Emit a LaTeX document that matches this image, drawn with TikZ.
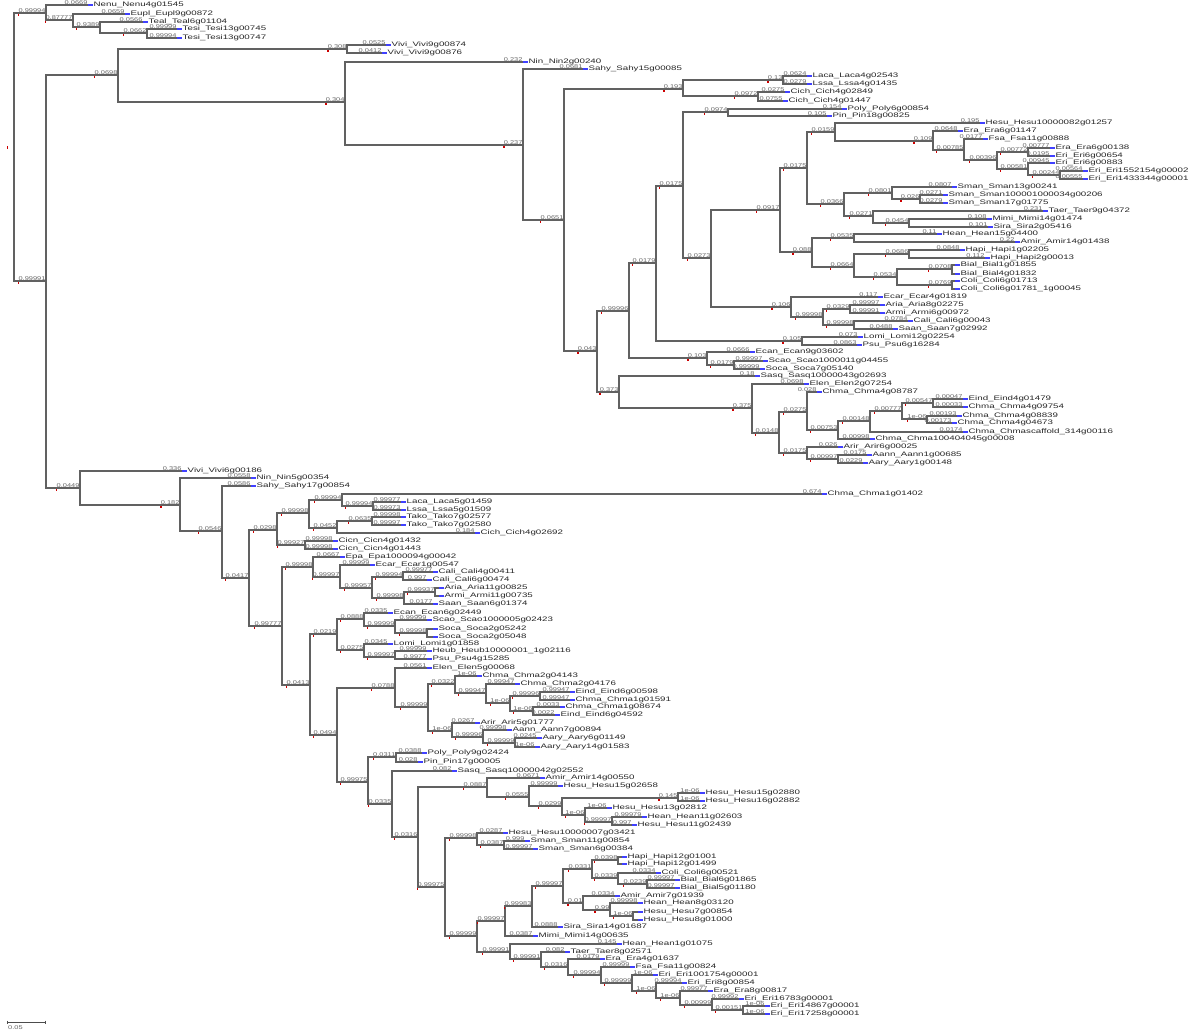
\documentclass[tikz,border=0pt]{standalone}
\usepackage{fontspec}
\setmainfont{Liberation Sans}
\usepackage{graphicx}
\tikzset{
  br/.style={draw=black!62, line width=1.25pt},
  bl/.style={anchor=south east, inner sep=0.4pt, text=black!60},
  lf/.style={anchor=west, inner sep=0pt, text=black!85},
  bm/.style={draw=blue!75, line width=1.3pt},
  rm/.style={fill=red!80!black},
}
\newcommand\BL[1]{\scalebox{1.35}[1]{\fontsize{5.5}{6}\selectfont #1}}
\newcommand\LT[1]{\scalebox{1.5}[1]{\fontsize{6.5}{7}\selectfont #1}}
\newcommand\tnode[5]{%
  \coordinate (#1) at (#2,#3);
  \draw[br] (#4) |- (#1);
  \node[bl] (#1l) at (#1) {\BL{#5}};
  \fill[rm] ([yshift=-1pt]#1l.south west) rectangle ++(1.3,2);
}
\newcommand\tleaf[6]{%
  \coordinate (#1) at (#2,#3);
  \draw[br] (#4) |- (#1);
  \node[bl] (#1l) at (#1) {\BL{#5}};
  \draw[bm] (#1) -- ++(5,0);
  \node[lf] (#1t) at ([xshift=5.5pt]#1) {\LT{#6}};
}
\begin{document}
\begin{tikzpicture}[x=1pt,y=-1pt]
\fill[white] (0,0) rectangle (1200,1032);
\useasboundingbox (0,0) rectangle (1200,1032);
\coordinate (R0) at (14,147);
\fill[rm] (6.5,146) rectangle ++(1.5,3);
% ---- top clade
\tnode{N1}{46}{13}{R0}{0.99994}
\tleaf{Nenu}{88}{5}{N1}{0.0669}{Nenu\_Nenu4g01545}
\tnode{N2}{73}{20}{N1}{0.87777}
\tleaf{Eupl}{125}{14}{N2}{0.0659}{Eupl\_Eupl9g00872}
\tnode{N3}{100}{27}{N2}{0.9389}
\tleaf{Teal}{143}{22}{N3}{0.0566}{Teal\_Teal6g01104}
\tnode{N4}{147}{33}{N3}{0.0662}
\tleaf{TesiA}{177}{29}{N4}{0.99999}{Tesi\_Tesi13g00745}
\tleaf{TesiB}{177}{38}{N4}{0.99994}{Tesi\_Tesi13g00747}
% ---- main clade
\tnode{M0}{46}{281}{R0}{0.99991}
\tnode{M1}{118}{75}{M0}{0.0698}
\tnode{V0}{347}{49}{M1}{0.308}
\tleaf{ViviA}{386}{45}{V0}{0.0525}{Vivi\_Vivi9g00874}
\tleaf{ViviB}{382}{53}{V0}{0.0412}{Vivi\_Vivi9g00876}
\tnode{M2}{345}{102}{M1}{0.304}
\tleaf{NinA}{523}{62}{M2}{0.232}{Nin\_Nin2g00240}
\tnode{M3}{523}{145}{M2}{0.237}
\tleaf{SahyA}{583}{69}{M3}{0.0681}{Sahy\_Sahy15g00085}
\tnode{M4}{564}{220}{M3}{0.0651}
\tnode{P1}{683}{89}{M4}{0.193}
\tnode{P2}{783}{80}{P1}{0.13}
\tleaf{Laca}{807}{76}{P2}{0.0624}{Laca\_Laca4g02543}
\tleaf{Lssa}{807}{84}{P2}{0.0279}{Lssa\_Lssa4g01435}
\tnode{P3}{758}{96}{P1}{0.0972}
\tleaf{CichA}{785}{92}{P3}{0.0275}{Cich\_Cich4g02849}
\tleaf{CichB}{783}{101}{P3}{0.0755}{Cich\_Cich4g01447}
\tnode{U}{597}{351}{M4}{0.043}
\tnode{T}{629}{311}{U}{0.99996}
\tnode{S}{656}{263}{T}{0.0179}
\tnode{Q}{683}{186}{S}{0.0175}
\tnode{PP}{728}{112}{Q}{0.0974}
\tleaf{Poly}{842}{109}{PP}{0.154}{Poly\_Poly6g00854}
\tleaf{Pin}{827}{116}{PP}{0.105}{Pin\_Pin18g00825}
\tnode{R}{711}{258}{Q}{0.0273}
\tnode{RA}{780}{210}{R}{0.0917}
\tnode{RB}{807}{168}{RA}{0.0175}
\tnode{RC}{835}{132}{RB}{0.0159}
\tleaf{Hesu}{980}{123}{RC}{0.195}{Hesu\_Hesu10000082g01257}
\tnode{RD}{933}{141}{RC}{0.109}
\tleaf{EraA}{958}{131}{RD}{0.0648}{Era\_Era6g01147}
\tnode{RE}{964}{150}{RD}{0.00785}
\tleaf{FsaA}{983}{139}{RE}{0.0177}{Fsa\_Fsa11g00888}
\tnode{RF}{997}{160}{RE}{0.00396}
\tnode{RG}{1028}{152}{RF}{0.00772}
\tleaf{EraB}{1050}{148}{RG}{0.00777}{Era\_Era6g00138}
\tleaf{EriA}{1050}{156}{RG}{0.0195}{Eri\_Eri6g00654}
\tnode{RH}{1028}{169}{RF}{0.00581}
\tleaf{EriB}{1050}{163}{RH}{0.00945}{Eri\_Eri6g00883}
\tnode{RI}{1060}{175}{RH}{0.00244}
\tleaf{EriC}{1083}{171}{RI}{0.00564}{Eri\_Eri1552154g00002}
\tleaf{EriD}{1083}{179}{RI}{0.00555}{Eri\_Eri1433344g00001}
\tnode{RJ}{844}{204}{RB}{0.0366}
\tnode{RK}{892}{193}{RJ}{0.0801}
\tleaf{SmanA}{952}{187}{RK}{0.0807}{Sman\_Sman13g00241}
\tnode{RL}{920}{199}{RK}{0.026}
\tleaf{SmanB}{943}{195}{RL}{0.0271}{Sman\_Sman100001000034g00206}
\tleaf{SmanC}{943}{203}{RL}{0.0279}{Sman\_Sman17g01775}
\tnode{RM}{873}{216}{RJ}{0.0271}
\tleaf{TaerA}{1043}{211}{RM}{0.231}{Taer\_Taer9g04372}
\tnode{RN}{909}{223}{RM}{0.0454}
\tleaf{MimiA}{987}{219}{RN}{0.108}{Mimi\_Mimi14g01474}
\tleaf{SiraA}{988}{227}{RN}{0.101}{Sira\_Sira2g05416}
\tnode{RO}{812}{252}{RA}{0.088}
\tnode{RP}{854}{238}{RO}{0.0535}
\tleaf{HeanA}{937}{234}{RP}{0.11}{Hean\_Hean15g04400}
\tleaf{AmirA}{1015}{242}{RP}{0.22}{Amir\_Amir14g01438}
\tnode{RQ}{854}{267}{RO}{0.0664}
\tnode{RR}{909}{254}{RQ}{0.0686}
\tleaf{HapiA}{960}{250}{RR}{0.0848}{Hapi\_Hapi1g02205}
\tleaf{HapiB}{985}{258}{RR}{0.112}{Hapi\_Hapi2g00013}
\tnode{RS}{897}{277}{RQ}{0.0534}
\tnode{RT}{952}{269}{RS}{0.0708}
\tleaf{BialA}{955}{265}{RT}{}{Bial\_Bial1g01855}
\tleaf{BialB}{955}{274}{RT}{}{Bial\_Bial4g01832}
\tnode{RU}{952}{285}{RS}{0.0769}
\tleaf{ColiA}{955}{281}{RU}{}{Coli\_Coli6g01713}
\tleaf{ColiB}{955}{289}{RU}{}{Coli\_Coli6g01781\_1g00045}
\tnode{A}{791}{307}{R}{0.106}
\tleaf{EcarA}{878}{297}{A}{0.117}{Ecar\_Ecar4g01819}
\tnode{B}{823}{317}{A}{0.99998}
\tnode{C}{850}{309}{B}{0.0329}
\tleaf{AriaA}{880}{305}{C}{0.99997}{Aria\_Aria8g02275}
\tleaf{ArmiA}{880}{313}{C}{0.99991}{Armi\_Armi6g00972}
\tnode{D}{854}{325}{B}{0.99998}
\tleaf{CaliA}{908}{321}{D}{0.0784}{Cali\_Cali6g00043}
\tleaf{SaanA}{893}{329}{D}{0.0488}{Saan\_Saan7g02992}
\tnode{LM}{802}{341}{S}{0.105}
\tleaf{LomiA}{858}{337}{LM}{0.073}{Lomi\_Lomi12g02254}
\tleaf{PsuA}{857}{345}{LM}{0.0863}{Psu\_Psu6g16284}
\tnode{E}{707}{358}{T}{0.103}
\tleaf{EcanA}{750}{352}{E}{0.0666}{Ecan\_Ecan9g03602}
\tnode{E1}{734}{365}{E}{0.0179}
\tleaf{ScaoA}{763}{361}{E1}{0.99997}{Scao\_Scao1000011g04455}
\tleaf{SocaA}{760}{369}{E1}{0.99999}{Soca\_Soca7g05140}
\tnode{V}{619}{392}{U}{0.373}
\tleaf{SasqA}{755}{376}{V}{0.18}{Sasq\_Sasq10000043g02693}
\tnode{W}{752}{408}{V}{0.375}
\tleaf{ElenA}{804}{384}{W}{0.0698}{Elen\_Elen2g07254}
\tnode{X}{779}{433}{W}{0.0148}
\tnode{Y}{807}{412}{X}{0.0275}
\tleaf{ChmaA}{817}{392}{Y}{0.028}{Chma\_Chma4g08787}
\tnode{Z}{838}{430}{Y}{0.00753}
\tnode{ZA}{870}{421}{Z}{0.00148}
\tnode{ZB}{902}{411}{ZA}{0.00777}
\tnode{ZC}{933}{403}{ZB}{0.00547}
\tleaf{EindA}{963}{399}{ZC}{0.00047}{Eind\_Eind4g01479}
\tleaf{ChmaB}{963}{407}{ZC}{0.00033}{Chma\_Chma4g09754}
\tnode{ZD}{927}{419}{ZB}{1e-06}
\tleaf{ChmaC}{957}{416}{ZD}{0.00193}{Chma\_Chma4g08839}
\tleaf{ChmaD}{952}{423}{ZD}{0.00173}{Chma\_Chma4g04673}
\tleaf{ChmaE}{963}{432}{ZA}{0.0174}{Chma\_Chmascaffold\_314g00116}
\tleaf{ChmaF}{870}{439}{Z}{0.00998}{Chma\_Chma100404045g00008}
\tnode{XB}{807}{453}{X}{0.0175}
\tleaf{ArirA}{838}{447}{XB}{0.026}{Arir\_Arir6g00025}
\tnode{XC}{838}{459}{XB}{0.00997}
\tleaf{AannA}{867}{455}{XC}{0.0175}{Aann\_Aann1g00685}
\tleaf{AaryA}{863}{463}{XC}{0.0229}{Aary\_Aary1g00148}
% ---- lower clade
\tnode{K0}{80}{488}{M0}{0.0449}
\tleaf{ViviC}{182}{471}{K0}{0.336}{Vivi\_Vivi6g00186}
\tnode{K1}{180}{505}{K0}{0.182}
\tleaf{NinB}{251}{478}{K1}{0.0558}{Nin\_Nin5g00354}
\tnode{K2}{222}{531}{K1}{0.0546}
\tleaf{SahyB}{251}{486}{K2}{0.0586}{Sahy\_Sahy17g00854}
\tnode{K3}{249}{578}{K2}{0.0417}
\tnode{K4}{277}{530}{K3}{0.0298}
\tnode{K5}{309}{513}{K4}{0.99998}
\tnode{K6}{342}{500}{K5}{0.99994}
\tleaf{ChmaG}{822}{494}{K6}{0.674}{Chma\_Chma1g01402}
\tnode{KL}{373}{506}{K6}{0.99994}
\tleaf{LacaB}{401}{502}{KL}{0.99977}{Laca\_Laca5g01459}
\tleaf{LssaB}{401}{510}{KL}{0.99973}{Lssa\_Lssa5g01509}
\tnode{TC}{337}{528}{K5}{0.0452}
\tnode{TK}{372}{521}{TC}{0.0635}
\tleaf{TakoA}{401}{517}{TK}{0.99998}{Tako\_Tako7g02577}
\tleaf{TakoB}{401}{525}{TK}{0.99997}{Tako\_Tako7g02580}
\tleaf{CichC}{475}{533}{TC}{0.184}{Cich\_Cich4g02692}
\tnode{CN}{305}{545}{K4}{0.99927}
\tleaf{CicnA}{333}{541}{CN}{0.99998}{Cicn\_Cicn4g01432}
\tleaf{CicnB}{333}{549}{CN}{0.99998}{Cicn\_Cicn4g01443}
\tnode{K7}{282}{626}{K3}{0.99777}
\tnode{K8}{313}{567}{K7}{0.99998}
\tleaf{EpaA}{340}{557}{K8}{0.0667}{Epa\_Epa1000094g00042}
\tnode{K10}{340}{577}{K8}{0.99997}
\tleaf{EcarB}{370}{565}{K10}{0.99999}{Ecar\_Ecar1g00547}
\tnode{K11}{372}{588}{K10}{0.99957}
\tnode{K12}{403}{577}{K11}{0.99994}
\tleaf{CaliB}{433}{572}{K12}{0.99977}{Cali\_Cali4g00411}
\tleaf{CaliC}{427}{580}{K12}{0.997}{Cali\_Cali6g00474}
\tnode{K13}{404}{598}{K11}{0.99998}
\tnode{K14}{435}{592}{K13}{0.99937}
\tleaf{AriaB}{439}{588}{K14}{}{Aria\_Aria11g00825}
\tleaf{ArmiB}{439}{596}{K14}{}{Armi\_Armi11g00735}
\tleaf{SaanB}{433}{604}{K13}{0.0177}{Saan\_Saan6g01374}
\tnode{K9}{310}{685}{K7}{0.0413}
\tnode{K15}{337}{634}{K9}{0.0219}
\tnode{K17}{364}{619}{K15}{0.0888}
\tleaf{EcanB}{388}{613}{K17}{0.0335}{Ecan\_Ecan6g02449}
\tnode{K19}{395}{626}{K17}{0.99999}
\tleaf{ScaoB}{427}{620}{K19}{0.99999}{Scao\_Scao1000005g02423}
\tnode{K20}{427}{633}{K19}{0.99998}
\tleaf{SocaB}{433}{629}{K20}{}{Soca\_Soca2g05242}
\tleaf{SocaC}{433}{637}{K20}{}{Soca\_Soca2g05048}
\tnode{K18}{364}{650}{K15}{0.0275}
\tleaf{LomiB}{388}{644}{K18}{0.0345}{Lomi\_Lomi1g01858}
\tnode{K21}{395}{657}{K18}{0.99997}
\tleaf{HeubA}{427}{651}{K21}{0.99999}{Heub\_Heub10000001\_1g02116}
\tleaf{PsuB}{427}{659}{K21}{0.9977}{Psu\_Psu4g15285}
\tnode{K16}{337}{735}{K9}{0.0494}
\tnode{K22}{395}{688}{K16}{0.0788}
\tleaf{ElenB}{427}{668}{K22}{0.0561}{Elen\_Elen5g00068}
\tnode{K24}{428}{707}{K22}{0.99999}
\tnode{CHa}{455}{684}{K24}{0.0322}
\tleaf{ChmaH}{477}{676}{CHa}{1e-06}{Chma\_Chma2g04143}
\tnode{CHb}{486}{693}{CHa}{0.99947}
\tleaf{ChmaI}{515}{684}{CHb}{0.99947}{Chma\_Chma2g04176}
\tnode{CHc}{510}{703}{CHb}{1e-06}
\tnode{CHd}{540}{696}{CHc}{0.99996}
\tleaf{EindB}{570}{692}{CHd}{0.99947}{Eind\_Eind6g00598}
\tleaf{ChmaJ}{570}{700}{CHd}{0.99947}{Chma\_Chma1g01591}
\tnode{CHe}{533}{711}{CHc}{1e-06}
\tleaf{ChmaK}{560}{707}{CHe}{0.0033}{Chma\_Chma1g08674}
\tleaf{EindC}{555}{715}{CHe}{0.0022}{Eind\_Eind6g04592}
\tnode{ARa}{452}{731}{K24}{1e-06}
\tleaf{ArirB}{475}{723}{ARa}{0.0267}{Arir\_Arir5g01777}
\tnode{ARb}{483}{737}{ARa}{0.99996}
\tleaf{AannB}{507}{730}{ARb}{0.99998}{Aann\_Aann7g00894}
\tnode{ARc}{515}{743}{ARb}{0.99999}
\tleaf{AaryB}{537}{738}{ARc}{0.0245}{Aary\_Aary6g01149}
\tleaf{AaryC}{535}{747}{ARc}{1e-06}{Aary\_Aary14g01583}
\tnode{K23}{368}{782}{K16}{0.99975}
\tnode{PQ}{396}{757}{K23}{0.0311}
\tleaf{PolyB}{422}{753}{PQ}{0.0388}{Poly\_Poly9g02424}
\tleaf{PinB}{418}{762}{PQ}{0.028}{Pin\_Pin17g00005}
\tnode{K25}{392}{804}{K23}{0.0335}
\tleaf{SasqB}{452}{771}{K25}{0.082}{Sasq\_Sasq10000042g02552}
\tnode{K26}{418}{837}{K25}{0.0316}
\tnode{Ha}{487}{787}{K26}{0.0887}
\tleaf{AmirB}{540}{778}{Ha}{0.0671}{Amir\_Amir14g00550}
\tnode{Hb}{529}{797}{Ha}{0.0555}
\tleaf{HesuB}{558}{786}{Hb}{0.99999}{Hesu\_Hesu15g02658}
\tnode{Hc}{562}{806}{Hb}{0.0299}
\tnode{Hd}{678}{798}{Hc}{0.145}
\tleaf{HesuC}{700}{793}{Hd}{1e-06}{Hesu\_Hesu15g02880}
\tleaf{HesuD}{700}{801}{Hd}{1e-06}{Hesu\_Hesu16g02882}
\tnode{He}{585}{815}{Hc}{1e-06}
\tleaf{HesuE}{607}{808}{He}{1e-06}{Hesu\_Hesu13g02812}
\tnode{Hf}{612}{822}{He}{0.99997}
\tleaf{HeanB}{642}{817}{Hf}{0.99979}{Hean\_Hean11g02603}
\tleaf{HesuF}{632}{825}{Hf}{0.997}{Hesu\_Hesu11g02439}
\tnode{K27}{445}{887}{K26}{0.99975}
\tnode{Sa}{477}{838}{K27}{0.99998}
\tleaf{HesuG}{503}{833}{Sa}{0.0287}{Hesu\_Hesu10000007g03421}
\tnode{Sb}{504}{845}{Sa}{0.0387}
\tleaf{SmanD}{525}{841}{Sb}{0.999}{Sman\_Sman11g00854}
\tleaf{SmanE}{533}{849}{Sb}{0.99997}{Sman\_Sman6g00384}
\tnode{K28}{477}{936}{K27}{0.99999}
\tnode{Ka}{505}{921}{K28}{0.99997}
\tnode{Kb}{532}{906}{Ka}{0.99983}
\tnode{AH}{563}{886}{Kb}{0.99997}
\tnode{HB}{592}{869}{AH}{0.0331}
\tnode{HP}{618}{860}{HB}{0.0398}
\tleaf{HapiC}{622}{857}{HP}{}{Hapi\_Hapi12g01001}
\tleaf{HapiD}{622}{864}{HP}{}{Hapi\_Hapi12g01499}
\tnode{CB}{618}{878}{HB}{0.0339}
\tleaf{ColiC}{656}{873}{CB}{0.0334}{Coli\_Coli6g00521}
\tnode{BB}{647}{884}{CB}{0.0239}
\tleaf{BialC}{675}{880}{BB}{0.99997}{Bial\_Bial6g01865}
\tleaf{BialD}{675}{888}{BB}{0.99997}{Bial\_Bial5g01180}
\tnode{AM}{583}{903}{AH}{0.01}
\tleaf{AmirC}{615}{896}{AM}{0.0334}{Amir\_Amir7g01939}
\tnode{HH}{610}{910}{AM}{0.99}
\tleaf{HeanC}{638}{903}{HH}{0.99998}{Hean\_Hean8g03120}
\tnode{HS}{633}{916}{HH}{1e-06}
\tleaf{HesuH}{638}{912}{HS}{}{Hesu\_Hesu7g00854}
\tleaf{HesuI}{638}{920}{HS}{}{Hesu\_Hesu8g01000}
\tleaf{SiraB}{558}{927}{Kb}{0.0888}{Sira\_Sira14g01687}
\tleaf{MimiB}{533}{936}{Ka}{0.0387}{Mimi\_Mimi14g00635}
\tnode{K29}{510}{952}{K28}{0.99991}
\tleaf{HeanD}{617}{944}{K29}{0.145}{Hean\_Hean1g01075}
\tnode{La}{541}{959}{K29}{0.99991}
\tleaf{TaerB}{565}{952}{La}{0.082}{Taer\_Taer8g02571}
\tnode{Lb}{568}{967}{La}{0.0316}
\tleaf{EraC}{600}{959}{Lb}{0.0179}{Era\_Era4g01637}
\tnode{Lc}{601}{975}{Lb}{0.99994}
\tleaf{FsaB}{630}{967}{Lc}{0.99999}{Fsa\_Fsa11g00824}
\tnode{Ld}{632}{983}{Lc}{0.99999}
\tleaf{EriE}{653}{975}{Ld}{1e-06}{Eri\_Eri1001754g00001}
\tnode{Le}{656}{991}{Ld}{1e-06}
\tleaf{EriF}{682}{983}{Le}{0.99994}{Eri\_Eri8g00854}
\tnode{Lf}{680}{998}{Le}{1e-06}
\tleaf{EraD}{708}{991}{Lf}{0.99977}{Era\_Era8g00817}
\tnode{Lg}{712}{1005}{Lf}{0.00999}
\tleaf{EriG}{739}{999}{Lg}{0.99992}{Eri\_Eri16783g00001}
\tnode{Lh}{743}{1010}{Lg}{0.00151}
\tleaf{EriH}{765}{1006}{Lh}{1e-06}{Eri\_Eri14867g00001}
\tleaf{EriI}{765}{1014}{Lh}{1e-06}{Eri\_Eri17258g00001}
% ---- scale bar
\coordinate (sbA) at (7,1022);
\coordinate (sbB) at (45,1022);
\draw[black!70, line width=0.6pt] (sbA) -- (sbB);
\draw[black!70, line width=0.6pt] ([yshift=1.5pt]sbA) -- ([yshift=-1.5pt]sbA);
\draw[black!70, line width=0.6pt] ([yshift=1.5pt]sbB) -- ([yshift=-1.5pt]sbB);
\node[anchor=north west, inner sep=0pt, text=black!60] (sbL) at (8,1025) {\BL{0.05}};
\end{tikzpicture}
\end{document}
